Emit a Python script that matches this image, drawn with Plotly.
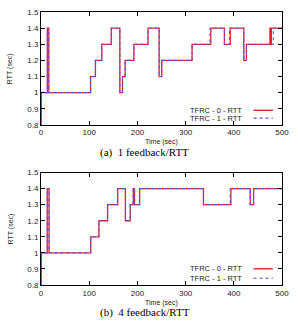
import plotly.graph_objects as go

# ---- data ----
t_a0 = [0, 0.5, 13, 16, 102.7, 112.8, 126, 145.7, 163.5, 169, 174.5, 192.6, 222, 245,
        250.4, 313.4, 352.3, 380.5, 392.6, 420.8, 426.2, 475, 476.5, 478, 500]
v_a0 = [0.8, 1.0, 1.4, 1.0, 1.1, 1.2, 1.3, 1.4, 1.0, 1.1, 1.2, 1.3, 1.4, 1.1,
        1.2, 1.3, 1.4, 1.3, 1.4, 1.2, 1.3, 1.4, 1.3, 1.4, 1.4]
t_a1 = [0, 0.5, 13, 16, 102.7, 112.8, 126, 145.7, 163.5, 169, 174.5, 192.6, 222, 245,
        250.4, 313.4, 350.5, 380.5, 391, 420.8, 426.2, 482, 500]
v_a1 = [0.8, 1.0, 1.4, 1.0, 1.1, 1.2, 1.3, 1.4, 1.0, 1.1, 1.2, 1.3, 1.4, 1.1,
        1.2, 1.3, 1.4, 1.3, 1.4, 1.2, 1.3, 1.4, 1.4]

t_b0 = [0, 0.5, 12.8, 16.5, 103, 120, 138, 159, 175, 185, 191.5, 194, 204.5,
        337, 394, 434, 441, 500]
v_b0 = [0.8, 1.0, 1.4, 1.0, 1.1, 1.2, 1.3, 1.4, 1.2, 1.3, 1.4, 1.3, 1.4,
        1.3, 1.4, 1.3, 1.4, 1.4]
t_b1 = [0, 0.5, 12.8, 16.5, 103, 120, 138, 159, 175, 185, 191, 193.5, 204.5,
        337, 392.5, 434, 441, 500]
v_b1 = [0.8, 1.0, 1.4, 1.0, 1.1, 1.2, 1.3, 1.4, 1.2, 1.3, 1.4, 1.3, 1.4,
        1.3, 1.4, 1.3, 1.4, 1.4]

x_ticks = [0, 100, 200, 300, 400, 500]
y_ticks = [0.8, 0.9, 1.0, 1.1, 1.2, 1.3, 1.4, 1.5]
y_tick_text = ["0.8", "0.9", "1", "1.1", "1.2", "1.3", "1.4", "1.5"]
series_names = ["TFRC - 0 - RTT", "TFRC - 1 - RTT"]
captions = ["(a)  1 feedback/RTT", "(b)  4 feedback/RTT"]

RED = "#e8202a"
BLUE = "#5a50f0"

W, H = 298, 326
def px(x): return x / W
def py(y): return 1 - y / H

fig = go.Figure()
panels = [
    ("x", "y", t_a0, v_a0, t_a1, v_a1),
    ("x2", "y2", t_b0, v_b0, t_b1, v_b1),
]
for xa, ya, t0, v0, t1, v1 in panels:
    fig.add_trace(go.Scatter(x=t0, y=v0, mode="lines", line=dict(color=RED, width=1.3, shape="hv"),
                             xaxis=xa, yaxis=ya, showlegend=False))
    fig.add_trace(go.Scatter(x=t1, y=v1, mode="lines", line=dict(color=BLUE, width=1.1, shape="hv", dash="dot"),
                             xaxis=xa, yaxis=ya, showlegend=False))

xdom = [px(40.3), px(288.7)]
ydom_a = [py(124.3), py(8.3)]
ydom_b = [py(289), py(173.3)]

tickfont = dict(family="Liberation Sans, Arial, sans-serif", size=8, color="#222")
common_x = dict(range=[0, 500], tickvals=x_ticks, ticks="inside", ticklen=4, mirror="allticks",
                showline=True, linecolor="black", linewidth=1, tickcolor="black",
                showgrid=False, zeroline=False, tickfont=tickfont, domain=xdom)
common_y = dict(range=[0.8, 1.5], tickvals=y_ticks, ticktext=y_tick_text, ticks="inside", ticklen=4,
                mirror="allticks", showline=True, linecolor="black", linewidth=1, tickcolor="black",
                showgrid=False, zeroline=False, tickfont=tickfont)

fig.update_layout(
    width=W, height=H, margin=dict(l=0, r=0, t=0, b=0),
    paper_bgcolor="white", plot_bgcolor="white",
    xaxis=dict(common_x, anchor="y"),
    yaxis=dict(common_y, domain=ydom_a, anchor="x"),
    xaxis2=dict(common_x, anchor="y2"),
    yaxis2=dict(common_y, domain=ydom_b, anchor="x2"),
    showlegend=False,
)

small = dict(family="Liberation Sans, Arial, sans-serif", size=7, color="#222")
cap = dict(family="Liberation Serif, Times New Roman, serif", size=11, color="black")
ann = []
shapes = []
for i, (ydom, tpy, cpy, leg) in enumerate([
        (ydom_a, 142, 152.5, (0.129, 0.060)),
        (ydom_b, 308, 317, (0.144, 0.060))]):
    xr = "x domain" if i == 0 else "x2 domain"
    yr = "y domain" if i == 0 else "y2 domain"
    ann.append(dict(text="Time (sec)", x=(xdom[0] + xdom[1]) / 2, y=py(tpy), xref="paper", yref="paper",
                    showarrow=False, font=small, xanchor="center", yanchor="middle"))
    ann.append(dict(text=captions[i], x=px(147), y=py(cpy), xref="paper", yref="paper",
                    showarrow=False, font=cap, xanchor="center", yanchor="middle"))
    ann.append(dict(text="RTT (sec)", x=px(9), y=(ydom[0] + ydom[1]) / 2, xref="paper", yref="paper",
                    showarrow=False, font=small, textangle=-90, xanchor="center", yanchor="middle"))
    for j, (name, col, dash, w) in enumerate([(series_names[0], RED, "solid", 1.4),
                                              (series_names[1], BLUE, "dot", 1.1)]):
        ann.append(dict(text=name, x=0.841, y=leg[j], xref=xr, yref=yr, showarrow=False,
                        font=dict(family="Liberation Sans, Arial, sans-serif", size=7.5, color="#222"),
                        xanchor="right", yanchor="middle"))
        shapes.append(dict(type="line", xref=xr, yref=yr, x0=0.882, x1=0.962, y0=leg[j], y1=leg[j],
                           line=dict(color=col, width=w, dash=dash)))

fig.update_layout(annotations=ann, shapes=shapes)
fig.write_html("out.html")
